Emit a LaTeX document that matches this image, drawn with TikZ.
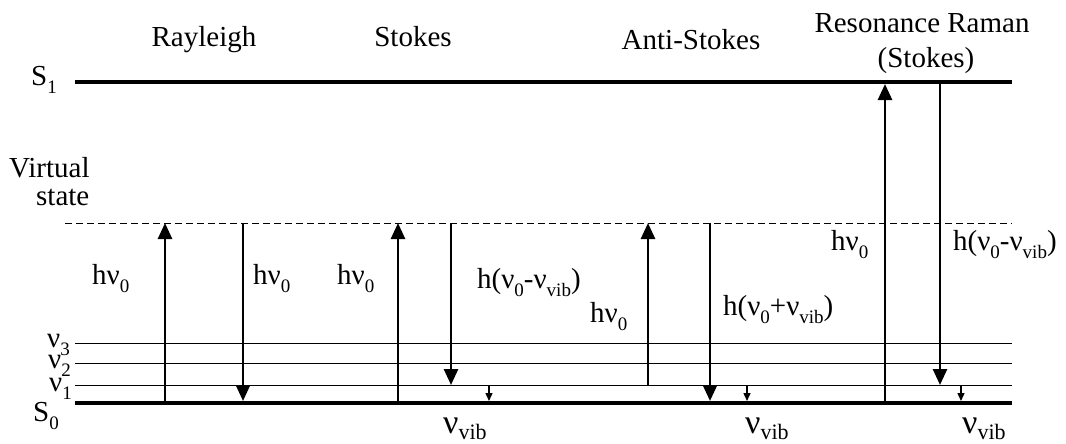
\documentclass[tikz,border=0pt]{standalone}
\usepackage{fontspec}
\setmainfont{Liberation Serif}
\usetikzlibrary{arrows.meta}

% lowered subscript in text
\newcommand\lowsub[1]{\raisebox{-0.3em}{\fontsize{19}{19}\selectfont #1}}
\newcommand\bigsub[1]{\raisebox{-0.2em}{\fontsize{22}{22}\selectfont #1}}

\begin{document}
\begin{tikzpicture}[x=1pt,y=-1pt,
  level/.style={line width=4.5pt},
  sublevel/.style={line width=0.9pt},
  virtual/.style={line width=0.9pt, dash pattern=on 7pt off 4pt},
  photon/.style={line width=2.6pt, -{Triangle[width=14pt,length=16pt]}},
  relax/.style={line width=1.4pt, -{Triangle[width=7pt,length=8pt]}},
  lbl/.style={font=\fontsize{29}{31}\selectfont, inner sep=0pt, anchor=base west},
  title/.style={font=\fontsize{29}{31}\selectfont, inner sep=0pt, anchor=base},
  vib/.style={font=\fontsize{34}{36}\selectfont, inner sep=0pt, anchor=base west}
]
\useasboundingbox (0,0) rectangle (1066,444);

% energy levels
\coordinate (S1w) at (75,82);   \coordinate (S1e) at (1012,82);
\coordinate (S0w) at (75,403);  \coordinate (S0e) at (1012,403);
\coordinate (VSw) at (65,223);  \coordinate (VSe) at (1012,223);
\coordinate (v3w) at (75,343);  \coordinate (v3e) at (1012,343);
\coordinate (v2w) at (75,363);  \coordinate (v2e) at (1012,363);
\coordinate (v1w) at (75,385);  \coordinate (v1e) at (1012,385);

\draw[level] (S1w) -- (S1e);
\draw[level] (S0w) -- (S0e);
\draw[virtual] (VSw) -- (VSe);
\draw[sublevel] (v3w) -- (v3e);
\draw[sublevel] (v2w) -- (v2e);
\draw[sublevel] (v1w) -- (v1e);

% level labels
\node[lbl] (lS1) at (31,85) {S\lowsub{1}};
\node[lbl] (lS0) at (33,421) {S\lowsub{0}};
\node[lbl] (lvir) at (9,177) {Virtual};
\node[lbl] (lsta) at (36,205) {state};
\node[lbl] (lv3) at (47,347) {ν\lowsub{3}};
\node[lbl] (lv2) at (48,368) {ν\lowsub{2}};
\node[lbl] (lv1) at (49,391) {ν\lowsub{1}};

% column titles
\node[title] (tRay) at (204,47) {Rayleigh};
\node[title] (tSto) at (413,47) {Stokes};
\node[title] (tAnt) at (691,50) {Anti-Stokes};
\node[title] (tRes) at (922,33) {Resonance Raman};
\node[title] (tRes2) at (926,68) {(Stokes)};

% Rayleigh
\coordinate (ra1) at (165,403); \coordinate (ra2) at (165,223);
\coordinate (rb1) at (243,223); \coordinate (rb2) at (243,401);
\draw[photon] (ra1) -- (ra2);
\draw[photon] (rb1) -- (rb2);
\node[lbl] (hRa) at (92,284) {hν\lowsub{0}};
\node[lbl] (hRb) at (253,284) {hν\lowsub{0}};

% Stokes
\coordinate (sa1) at (398,403); \coordinate (sa2) at (398,223);
\coordinate (sb1) at (451,223); \coordinate (sb2) at (451,385);
\coordinate (sc1) at (489,385); \coordinate (sc2) at (489,401);
\draw[photon] (sa1) -- (sa2);
\draw[photon] (sb1) -- (sb2);
\draw[relax] (sc1) -- (sc2);
\node[lbl] (hSa) at (337,284) {hν\lowsub{0}};
\node[lbl] (hSb) at (477,288) {h(ν\lowsub{0}-ν\lowsub{vib})};
\node[vib] (vS) at (443,433) {ν\bigsub{vib}};

% Anti-Stokes
\coordinate (aa1) at (648,385); \coordinate (aa2) at (648,223);
\coordinate (ab1) at (710,223); \coordinate (ab2) at (710,401);
\coordinate (ac1) at (747,385); \coordinate (ac2) at (747,401);
\draw[photon] (aa1) -- (aa2);
\draw[photon] (ab1) -- (ab2);
\draw[relax] (ac1) -- (ac2);
\node[lbl] (hAa) at (590,322) {hν\lowsub{0}};
\node[lbl] (hAb) at (723,315) {h(ν\lowsub{0}+ν\lowsub{vib})};
\node[vib] (vA) at (745,433) {ν\bigsub{vib}};

% Resonance Raman
\coordinate (ea1) at (885,403); \coordinate (ea2) at (885,84);
\coordinate (eb1) at (940,82);  \coordinate (eb2) at (940,385);
\coordinate (ec1) at (961,385); \coordinate (ec2) at (961,401);
\draw[photon] (ea1) -- (ea2);
\draw[photon] (eb1) -- (eb2);
\draw[relax] (ec1) -- (ec2);
\node[lbl] (hEa) at (831,250) {hν\lowsub{0}};
\node[lbl] (hEb) at (953,250) {h(ν\lowsub{0}-ν\lowsub{vib})};
\node[vib] (vE) at (962,433) {ν\bigsub{vib}};
\end{tikzpicture}
\end{document}
